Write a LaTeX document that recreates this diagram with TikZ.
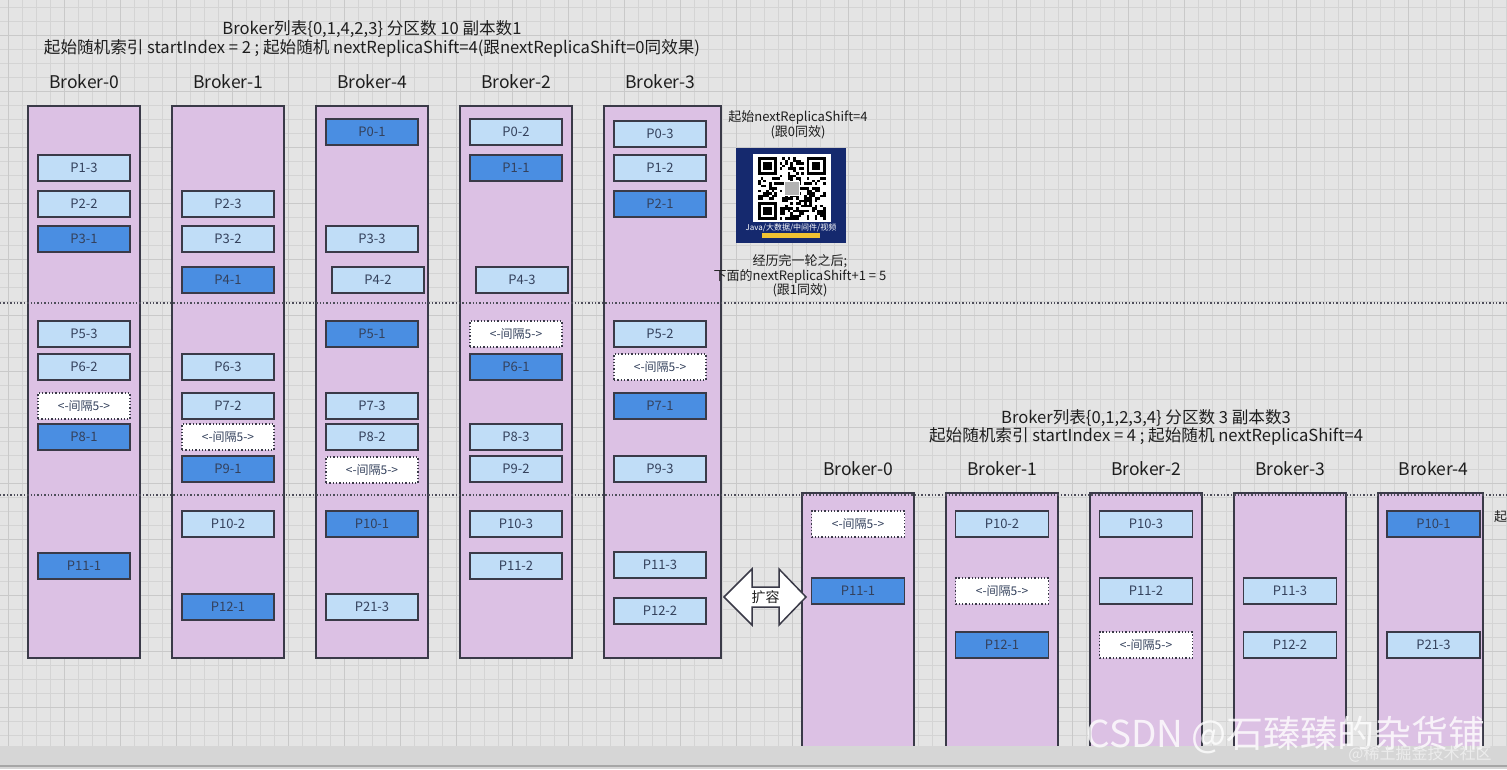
\documentclass[tikz,border=0pt]{standalone}
\usepackage{fontspec}
\setmainfont{Noto Sans CJK SC}
\usepackage{xcolor}
\usepackage{tikz}
\usetikzlibrary{positioning}

\definecolor{fondo}{HTML}{E4E4E4}
\definecolor{rejilla}{HTML}{D4D4D4}
\definecolor{rejillamayor}{HTML}{C9C9C9}
\definecolor{lavanda}{HTML}{DCC1E4}
\definecolor{borde}{HTML}{3A3A48}
\definecolor{azulclaro}{HTML}{C0DDF7}
\definecolor{azuloscuro}{HTML}{4A8EE2}
\definecolor{textocaja}{HTML}{34415C}
\definecolor{textonegro}{HTML}{1E1E1E}
\definecolor{azulqr}{HTML}{15296E}
\definecolor{amarillo}{HTML}{F0C232}
\definecolor{franja}{HTML}{D6D6D6}

\newcommand{\intervalo}{<-间隔5->}

\begin{document}
\begin{tikzpicture}[x=1pt,y=-1pt,
  broker/.style={draw=borde, line width=1.5pt, fill=lavanda, inner sep=0pt},
  caja/.style={draw=borde, line width=1.3pt, minimum width=92pt, minimum height=26pt, inner sep=0pt, text=textocaja, font=\fontsize{13}{15}\selectfont},
  claro/.style={caja, fill=azulclaro},
  oscuro/.style={caja, fill=azuloscuro},
  hueco/.style={caja, fill=white, dotted, font=\fontsize{12}{14}\selectfont},
  etiqueta/.style={text=textonegro, font=\fontsize{17.5}{20}\selectfont},
  titulo/.style={align=center, text=textonegro, font=\fontsize{16.6}{18.5}\selectfont},
  nota/.style={align=center, text=textonegro, font=\fontsize{13}{14.5}\selectfont},
  punteada/.style={draw=borde!90, line width=1.4pt, dash pattern=on 1.4pt off 2pt}]

\useasboundingbox (0,0) rectangle (1507,769);

% Fondo con rejilla
\fill[fondo] (0,0) rectangle (1507,769);
\foreach \gx in {8.7,22.7,...,1507} \draw[rejilla, line width=0.6pt] (\gx,0) -- (\gx,769);
\foreach \gy in {7,21,...,769} \draw[rejilla, line width=0.6pt] (0,\gy) -- (1507,\gy);
\foreach \gx in {8.7,64.7,...,1507} \draw[rejillamayor, line width=0.8pt] (\gx,0) -- (\gx,769);
\foreach \gy in {35,91,...,769} \draw[rejillamayor, line width=0.8pt] (0,\gy) -- (1507,\gy);

% Titulo de arriba
\node[titulo] (tituloA) at (372,39) {Broker列表\{0,1,4,2,3\} 分区数 10 副本数1\\起始随机索引 startIndex = 2 ; 起始随机 nextReplicaShift=4(跟nextReplicaShift=0同效果)};

% Columnas de arriba
\node[broker, minimum width=112pt, minimum height=552pt] (colA0) at (84,382) {};
\node[broker, minimum width=112pt, minimum height=552pt] (colA1) at (228,382) {};
\node[broker, minimum width=112pt, minimum height=552pt] (colA4) at (372,382) {};
\node[broker, minimum width=112pt, minimum height=552pt] (colA2) at (516,382) {};
\node[broker, minimum width=117pt, minimum height=552pt] (colA3) at (662.5,382) {};
\node[etiqueta] (nomA0) at (84,82) {Broker-0};
\node[etiqueta] (nomA1) at (228,82) {Broker-1};
\node[etiqueta] (nomA4) at (372,82) {Broker-4};
\node[etiqueta] (nomA2) at (516,82) {Broker-2};
\node[etiqueta] (nomA3) at (660,82) {Broker-3};

% Titulo de abajo
\node[titulo] (tituloB) at (1146,427.5) {Broker列表\{0,1,2,3,4\} 分区数 3 副本数3\\起始随机索引 startIndex = 4 ; 起始随机 nextReplicaShift=4};

% Columnas de abajo
\node[broker, minimum width=112pt, minimum height=254pt] (colB0) at (858,620) {};
\node[broker, minimum width=112pt, minimum height=254pt] (colB1) at (1002,620) {};
\node[broker, minimum width=112pt, minimum height=254pt] (colB2) at (1146,620) {};
\node[broker, minimum width=112pt, minimum height=254pt] (colB3) at (1290,620) {};
\node[broker, minimum width=105pt, minimum height=254pt] (colB4) at (1430.5,620) {};
\node[etiqueta] (nomB0) at (858,469) {Broker-0};
\node[etiqueta] (nomB1) at (1002,469) {Broker-1};
\node[etiqueta] (nomB2) at (1146,469) {Broker-2};
\node[etiqueta] (nomB3) at (1290,469) {Broker-3};
\node[etiqueta] (nomB4) at (1433.5,469) {Broker-4};

% Lineas punteadas
\draw[punteada] (0,303) -- (1507,303);
\draw[punteada] (0,495) -- (1507,495);

% Particiones de arriba
\foreach \px/\py/\pt/\ps [count=\k] in {
  84/168/P1-3/claro, 84/204/P2-2/claro, 84/239/P3-1/oscuro, 84/334/P5-3/claro, 84/367/P6-2/claro,
  84/406/\intervalo/hueco, 84/437/P8-1/oscuro, 84/566/P11-1/oscuro,
  228/204/P2-3/claro, 228/239/P3-2/claro, 228/280/P4-1/oscuro, 228/367/P6-3/claro, 228/406/P7-2/claro,
  228/437/\intervalo/hueco, 228/469/P9-1/oscuro, 228/524/P10-2/claro, 228/607/P12-1/oscuro,
  372/132/P0-1/oscuro, 372/239/P3-3/claro, 378/280/P4-2/claro, 372/334/P5-1/oscuro, 372/406/P7-3/claro,
  372/437/P8-2/claro, 372/470/\intervalo/hueco, 372/524/P10-1/oscuro, 372/607/P21-3/claro,
  516/132/P0-2/claro, 516/168/P1-1/oscuro, 522/280/P4-3/claro, 516/334/\intervalo/hueco, 516/367/P6-1/oscuro,
  516/437/P8-3/claro, 516/469/P9-2/claro, 516/524/P10-3/claro, 516/566/P11-2/claro,
  660/134/P0-3/claro, 660/168/P1-2/claro, 660/204/P2-1/oscuro, 660/334/P5-2/claro, 660/367/\intervalo/hueco,
  660/406/P7-1/oscuro, 660/469/P9-3/claro, 660/565/P11-3/claro, 660/611/P12-2/claro}
  \node[\ps] (arriba\k) at (\px,\py) {\pt};

% Particiones de abajo
\foreach \px/\py/\pt/\ps [count=\k] in {
  858/524/\intervalo/hueco, 858/591/P11-1/oscuro,
  1002/524/P10-2/claro, 1002/591/\intervalo/hueco, 1002/645/P12-1/oscuro,
  1146/524/P10-3/claro, 1146/591/P11-2/claro, 1146/645/\intervalo/hueco,
  1290/591/P11-3/claro, 1290/645/P12-2/claro,
  1433.5/524/P10-1/oscuro, 1433.5/645/P21-3/claro}
  \node[\ps, minimum width=93pt] (abajo\k) at (\px,\py) {\pt};

% Notas a la derecha
\node[nota] (notaA) at (798,125) {起始nextReplicaShift=4\\(跟0同效)};
\node[nota] (notaB) at (800,276) {经历完一轮之后;\\下面的nextReplicaShift+1 = 5\\(跟1同效)};
\node[nota, anchor=west, inner sep=0pt] (notaC) at (1494,517) {起};

% Codigo QR
\fill[azulqr] (736,148) rectangle (846,243);
\fill[white] (753,154) rectangle (831,222);
\pgfmathsetseed{17}
\foreach \qi in {0,...,24} {
  \foreach \qj in {0,...,24} {
    \pgfmathtruncatemacro\bit{rnd<0.47}
    \ifnum\bit=1 \fill[black] (758+\qi*2.7,157+\qj*2.5) rectangle ++(2.7,2.5); \fi
  }
}
\foreach \fx/\fy/\sx/\sy in {0/0/0/0, 18/0/17/0, 0/18/0/17} {
  \fill[white] (758+\sx*2.7,157+\sy*2.5) rectangle ++(8*2.7,8*2.5);
  \fill[black] (758+\fx*2.7,157+\fy*2.5) rectangle ++(7*2.7,7*2.5);
  \fill[white] (758+\fx*2.7+2.7,157+\fy*2.5+2.5) rectangle ++(5*2.7,5*2.5);
  \fill[black] (758+\fx*2.7+5.4,157+\fy*2.5+5) rectangle ++(3*2.7,3*2.5);
}
\fill[white] (758+9.5*2.7,157+9.5*2.5) rectangle ++(6*2.7,6*2.5);
\fill[gray!60] (758+10*2.7,157+10*2.5) rectangle ++(5*2.7,5*2.5);
\node[text=white, font=\fontsize{8}{9}\selectfont] (qrtexto) at (791,228) {Java/大数据/中间件/视频};
\fill[amarillo] (762,233) rectangle (820,238);

% Flecha de expansion
\draw[borde, line width=1.5pt, fill=white, line join=miter] (724,597) -- (752,569) -- (752,587) -- (779,587) -- (779,569) -- (806,597) -- (779,625) -- (779,607) -- (752,607) -- (752,625) -- cycle;
\node[text=textonegro, font=\fontsize{14}{15}\selectfont] (kuorong) at (765.5,597) {扩容};

% Franja inferior
\fill[franja] (0,746) rectangle (1507,769);
\draw[gray!70, line width=1.5pt] (0,766) -- (1507,766);

% Marcas de agua
\node[text=white, opacity=0.8, font=\fontsize{37}{40}\selectfont] (marca1) at (1286,735) {CSDN @石臻臻的杂货铺};
\node[text=white!85!gray, font=\fontsize{16}{18}\selectfont] (marca2) at (1420,754) {@稀土掘金技术社区};

\end{tikzpicture}
\end{document}
